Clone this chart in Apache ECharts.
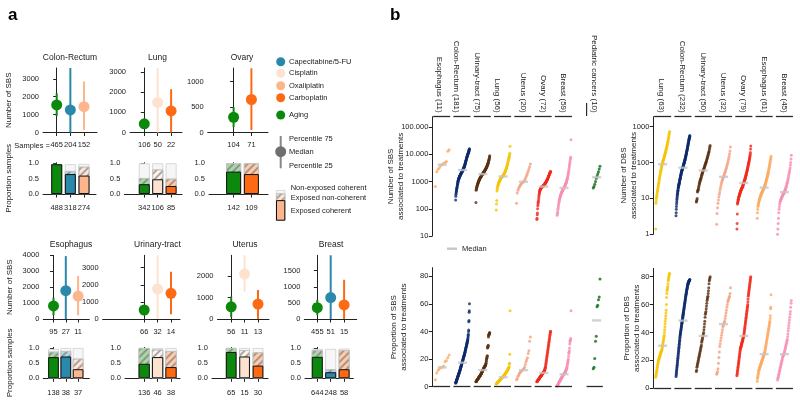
<!DOCTYPE html>
<html><head><meta charset="utf-8">
<script src="https://cdn.jsdelivr.net/npm/echarts@6/dist/echarts.min.js"></script>
<style>html,body{margin:0;padding:0;background:#fff}#c{width:800px;height:404px}</style>
</head><body><div id="c"></div>
<script>
// ---------------- Panel a data ----------------
const treatmentNames = ['Capecitabine/5-FU','Cisplatin','Oxaliplatin','Carboplatin','Aging'];
const treatmentColors = ['#2a88ab','#fde2cf','#fdb68c','#fd6a13','#0c890c'];
const aTissues = ['Colon-Rectum','Lung','Ovary','Esophagus','Urinary-tract','Uterus','Breast'];
const aTreatments = [
  ['Aging','Capecitabine/5-FU','Oxaliplatin'],
  ['Aging','Cisplatin','Carboplatin'],
  ['Aging','Carboplatin'],
  ['Aging','Capecitabine/5-FU','Oxaliplatin'],
  ['Aging','Cisplatin','Carboplatin'],
  ['Aging','Cisplatin','Carboplatin'],
  ['Aging','Capecitabine/5-FU','Carboplatin']
];
const sbsMedian = [[1540,1260,1440],[430,1490,1070],[300,650],[820,1780,1440],[526,1754,1500],[570,2100,700],[353,666,437]];
const sbsP25 = [[920,0,140],[330,0,0],[105,50],[230,0,230],[420,0,275],[80,1280,0],[125,0,0]];
const sbsP75 = [[2190,3600,2840],[540,3200,2150],[500,1265],[1340,3950,2700],[640,3725,2766],[1050,2977,1360],[594,1980,1220]];
const sbsSamples = [[465,204,152],[106,50,22],[104,71],[95,27,11],[66,32,14],[56,11,13],[455,51,15]];
const sbsAxisMax = [3600,3200,1270,4000,3725,2977,1980];
const sbsAxisTicks = [[0,1000,2000,3000],[0,1000,2000,3000],[0,500,1000],[0,1000,2000,3000,4000],[0,1000,2000,3000],[0,1000,2000],[0,500,1000,1500]];
const propExposedCoherent = [[0.97,0.65,0.6],[0.32,0.48,0.26],[0.73,0.65],[0.7,0.72,0.3],[0.48,0.7,0.37],[0.87,0.72,0.42],[0.71,0.2,0.3]];
const propExposedNonCoherent = [[0,0.1,0.29],[0.2,0.32,0.24],[0.27,0.35],[0.18,0.18,0.35],[0.52,0.25,0.53],[0.13,0.21,0.44],[0.22,0.1,0.63]];
const propNonExposedCoherent = [[0.01,0.22,0.09],[0.48,0.2,0.5],[0,0],[0.09,0.1,0.35],[0,0.05,0.1],[0,0.07,0.14],[0.04,0.67,0.05]];
const propSamples = [[488,318,274],[342,106,85],[142,109],[138,38,37],[136,46,38],[65,15,30],[644,248,58]];
const propTicks = [0,0.5,1];
const legendBarParts = [0.67,0.22,0.11];

// ---------------- Panel b data ----------------
const sbsGroups = ['Esophagus','Colon-Rectum','Urinary-tract','Lung','Uterus','Ovary','Breast','Pediatric cancers'];
const sbsGroupN = [11,181,75,56,20,72,59,10];
const sbsColors = ['#fdaa60','#0c2b6b','#5a3010','#f5c400','#f4a080','#f2281b','#f78db3','#0b6a14'];
const sbsCounts = [
  [650,2300,2800,3300,3900,4200,4600,5000,5400,13000,14500],
  [210,290,340,380,420,460,500,540,580,620,680,740,800,870,930,990,1050,1110,1160,1210,1260,1310,1360,1410,1460,1510,1560,1600,1640,1690,1730,1780,1830,1880,1930,1980,2030,2080,2130,2180,2230,2290,2350,2410,2470,2540,2610,2680,2750,2820,2900,3000,3100,3200,3320,3450,3580,3720,3870,4030,4200,4400,4650,4900,5150,5400,5700,6000,6300,6650,7000,7350,7700,8000,8300,8650,9000,9400,9800,10200,10600,11000,11400,11800,12400,13000,13700,14400,15200,16000],
  [170,480,520,560,600,640,680,720,760,800,840,880,920,960,1000,1040,1080,1120,1160,1200,1240,1280,1320,1360,1400,1440,1480,1520,1560,1600,1650,1700,1750,1800,1850,1870,1900,1950,2000,2050,2100,2150,2200,2260,2320,2380,2440,2500,2560,2620,2700,2780,2860,2950,3050,3150,3250,3350,3500,3650,3800,3950,4100,4300,4500,4700,5000,5300,5600,6000,6400,6900,7400,8100,8900],
  [90,150,200,450,520,600,660,720,780,840,900,950,1000,1050,1100,1150,1200,1250,1300,1340,1380,1420,1460,1500,1530,1560,1600,1650,1700,1760,1820,1900,1980,2060,2150,2250,2350,2500,2650,2800,3000,3200,3450,3700,4000,4400,4800,5300,5800,6400,7000,7700,8500,9500,11000,19600],
  [160,380,480,560,640,720,800,870,930,960,990,1100,1250,1450,1700,2000,2400,2900,3500,4400],
  [40,45,60,70,100,130,150,170,190,220,260,300,340,380,420,450,480,500,520,540,555,570,585,600,610,620,630,640,650,660,670,680,690,700,710,720,735,750,765,780,800,820,840,860,880,900,920,950,980,1010,1040,1080,1120,1160,1200,1240,1290,1340,1400,1460,1520,1590,1660,1740,1820,1900,1980,2060,2140,2220,2300,2350],
  [58,65,75,90,105,120,140,160,180,200,220,240,260,280,300,320,340,360,380,400,420,440,460,480,500,520,540,560,580,600,620,650,680,710,740,780,820,870,920,980,1050,1130,1220,1320,1450,1600,1800,2000,2300,2600,3000,3500,4000,4600,5300,6100,7000,7800,34000],
  [580,650,800,1000,1300,1550,1900,2300,2900,3650]
];
const sbsCountMedians = [4150,2630,1870,1530,970,650,580,1430];
const sbsProps = [
  [5,10,12,13,14,14,15,18,19,21,23],
  [2.5,3,3.3,3.6,4,4.3,4.6,5,5.3,5.6,6,6.3,6.6,7,7.3,7.6,8,8.3,8.6,9,9.3,9.6,10,10.3,10.6,11,11.3,11.6,12,12.4,12.8,13.2,13.6,14,14.4,14.8,15.2,15.6,16,16.4,16.8,17.2,17.6,18,18.4,18.8,19.2,19.6,20,20.4,20.8,21.2,21.6,22,22.4,22.8,23.2,23.6,24,24.5,25,25.5,26,26.5,27,27.5,28,28.5,29,29.5,30,30.5,31,31.5,32,32.5,33,33.5,34,35,36,37,38,40,41,47,48,54,55,60],
  [3.5,3.8,4,4.2,4.4,4.6,4.8,5,5.2,5.4,5.6,5.8,6,6.2,6.4,6.6,6.8,7,7.2,7.4,7.6,7.8,8,8.2,8.4,8.6,8.8,9,9.3,9.6,9.9,10.2,10.5,10.8,11.1,11.4,11.7,12,12.3,12.6,12.9,13.2,13.5,13.8,14,14.2,14.4,14.6,14.8,15,15.3,15.6,16,16.5,17,18,19,20,20.5,21,22,22.5,28,28.5,29,29.5,30,36,37,37.5,38,38,38.5,39,39],
  [2,2.2,2.4,2.6,2.8,3,3.2,3.4,3.6,3.8,4,4.2,4.4,4.6,4.8,5,5.2,5.4,5.6,5.8,6,6.2,6.4,6.6,6.8,7,7.2,7.4,7.6,7.8,8,8.2,8.4,8.6,8.8,9,9.3,9.6,9.9,10.2,10.5,10.8,11.1,11.4,11.7,12,12.4,12.8,13.2,13.6,14,14.5,16.5,17,23.5,55],
  [5,6,7.5,8.5,9.5,10.5,11,11.5,12,12.5,13,14,16,18,19.5,21,24,26,33,36],
  [3.5,3.8,4,4.2,4.4,4.6,4.8,5,5.2,5.4,5.6,5.8,6,6.2,6.4,6.6,6.8,7,7.2,7.4,7.6,7.8,8,8.2,8.4,8.6,8.8,9,9.2,9.4,9.6,9.8,10,10.2,10.4,10.6,10.8,11,11.3,11.6,12,12.5,13,13.5,14,15,16,17,18,19,20,21,22,23,24,25,26,27,28,29,30,31,32,33,34,35,36,37,38,39,40,40],
  [0.3,0.6,1,1.4,1.8,2.2,2.6,3,3.3,3.6,3.9,4.2,4.5,4.8,5.1,5.4,5.7,6,6.3,6.6,6.9,7.2,7.5,7.8,8.1,8.4,8.7,9,9.2,9.4,9.6,9.8,10,10.3,10.6,11,11.4,11.8,12.3,12.8,13.4,14,15,16,17,18,19,20,22,24,25,26,28,31,32.5,33.5,34,35,55],
  [13,14,20.5,33,36.5,58,59,63,65,78]
];
const sbsPropMedians = [14,17.4,12,6.8,12,10,9,48];

const dbsGroups = ['Lung','Colon-Rectum','Urinary-tract','Uterus','Ovary','Esophagus','Breast'];
const dbsGroupN = [63,232,50,32,79,61,45];
const dbsColors = ['#f5c400','#0c2b6b','#5a3010','#f4a080','#f2281b','#fdaa60','#f78db3'];
const dbsCounts = [
  [1.4,7.3,8.5,10,11,12,13.5,15,16.5,18,20,22,24,26,28,31,34,37,40,44,48,52,56,60,65,70,75,80,85,90,95,100,105,110,116,122,128,135,142,150,158,166,175,185,195,205,220,235,250,265,280,300,320,345,370,400,430,470,510,560,620,680,740],
  [3.3,4,5,6,7,8,9,10,11,12,13,14,15,16,17,18.5,20,21,22,23,24,25,26,27,28,29.5,31,32.5,34,35.5,37,38.5,40,42,44,46,48,50,52,54,56,58,60,62,64,66,68,70,72,74,76,78,80,83,86,89,92,95,98,101,104,108,112,116,120,125,130,135,140,146,152,158,165,172,180,188,196,205,215,225,235,246,258,270,285,300,315,330,345,360,380,400,420,440,460,480,500,520,545,570],
  [8,8.5,9,10,15,16,17,18,20,22,24,26,28,30,32,34,36,38,41,44,47,50,53,56,59,62,65,68,72,76,80,85,90,95,100,106,112,120,128,136,145,155,165,178,190,205,225,250,275,300],
  [1.9,3.8,5.5,7.3,9,11,13,15,18,21,24,27,30,33,36,39,42,46,50,55,60,66,72,80,90,100,115,130,150,175,210,270],
  [1.4,2,3.7,7,7.5,8,8.5,9,9.5,10,10.5,11,11.5,12,12.5,13,13.5,14,14.5,15,15.5,16,16.5,17,17.5,18,18.5,19,19.5,20,20.5,21,21.5,22,23,24,25,26,27,28,29,30,31,32,33,34,35.5,37,38.5,40,42,44,46,48,50,53,56,59,62,65,68,72,76,80,85,90,95,100,106,112,120,128,136,145,155,170,190,240,290],
  [2.8,4,5,6,6.5,7,7.5,8,8.5,9,9.5,10,10.5,11,11.5,12,12.5,13,13.5,14,14.5,15,15.5,16,16.5,17,17.5,18,18.5,19.5,20,21,22,23,24,25,26.5,28,29.5,31,33,35,37,39,41,44,47,50,54,58,63,68,74,80,87,95,103,112,123,135,150],
  [1,1.4,2,2.8,4,5,6,7,8,8.5,9,9.5,10,10.5,11,11.5,12,12.5,13,13.5,14,14.5,15,16,17,18,19,20.5,22,24,26,28,30,33,36,40,45,50,56,63,72,85,100,125,160]
];
const dbsCountMedians = [90,72,60,40,27,20,15];
const dbsProps = [
  [8,9,10,11,12,13,14,15,16,17,18,19,20,20.5,21,21.5,22,22.5,23,23.5,24,24.5,25,25.5,26,26.5,27,27.5,28,29,30,31,32,33,34,35,36,37,38,40,42,44,46,48,50,52,54,56,60,65,68,70,71,72,73,75,77,78,79,80,81,82,82.5],
  [8.5,9.5,10.5,11.5,12.5,13.5,14.5,15.5,16.5,17.5,18.5,19.5,20.5,21.5,22.5,23.5,24.5,25.5,26.5,27.5,28.5,29.5,30.5,31.5,32.5,33.5,34.5,35.5,36.5,37.5,38.3,39,39.7,40.4,41.1,41.8,42.5,43.2,43.9,44.6,45.3,46,46.7,47.4,48.1,48.8,49.5,50.2,50.9,51.6,52.3,53,53.7,54.4,55.1,55.8,56.5,57.2,57.9,58.6,59.3,60,60.7,61.4,62.1,62.8,63.5,64.2,64.9,65.6,66.2,66.8,67.4,68,68.6,69.2,69.8,70.4,71,71.6,72.1,72.6,73.1,73.6,74.1,74.5,74.9,75.3,75.6,75.9,76.2,76.4,76.6,76.8,77,77.2,77.4,77.6,77.8,78],
  [12,13,15,16,17,18,19,20,21,22,23,24,25,26,27,28,29,30,31,33,34,35,36,37,38,39,40,42,44,46,48,51,53,54,55,57,59,61,63,64,65,66,68,70,72,75,77,78,79,80],
  [10,11,12,14,18,22,26,30,32,34,36,38,40,42,44,45,46,47,48,50,52,54,56,58,60,62,63,64,65,66,68,72],
  [9,10,11,12,13,14,15,16,17,18,19,20,21,22,23,24,25,26,27,28,28.5,29,29.5,30,30.5,31,31.5,32,32.5,33,33.5,34,34.5,35,35.5,36,36.5,37,37.5,38,39,40,41,42,43,44,45,46,47,48,49,50,51,52,53,54,55,56,57,58,59,60,62,64,66,67,68,69,70,71,72,73,74,75,76,77,78,79,80],
  [5,7,8,9,10,11,12,13,13.5,14,14.5,15,15.5,16,16.5,17,17.5,18,18.5,19,19.5,20,20.5,21,21.5,22,22.5,23,23.5,24,24.5,25,25.5,26,27,28,29,30,31,32,33,34,35,36,37,38,39,40,41,42,43,44,45,46,47,48,50,52,57,58,67],
  [6,7,8,9,10,11,12,13,14,15,16,17,18,19,20,21,22,23,23.5,24,24.5,25,26,27,28,29,30,31,32,33,34,35,37,39,41,43,45,47,49,51,53,55,58,61,63]
];
const dbsPropMedians = [30.5,48.5,37.5,46,37.5,24.5,24.5];

const sbsCountTicks = [10,100,1000,10000,100000];
const sbsCountTickLabels = ['10','100','1000','10.000','100.000'];
const dbsCountTicks = [1,10,100,1000];
const dbsCountTickLabels = ['1','10','100','1000'];
const pctTicks = [0,20,40,60,80];

// ---------------- helpers & layout ----------------
const FONT = '"Liberation Sans", Arial, Helvetica, sans-serif';
const INK = '#222';
const FS = 7.5;
function tint(hex, f) {
  const n = parseInt(hex.slice(1), 16);
  const m = c => Math.round(c * f + 255 * (1 - f));
  return 'rgb(' + m(n >> 16) + ',' + m((n >> 8) & 255) + ',' + m(n & 255) + ')';
}
const colorOf = t => treatmentColors[treatmentNames.indexOf(t)];
const hatch = {symbol:'rect', symbolSize:1, color:'rgba(105,105,105,0.55)', dashArrayX:[1,0], dashArrayY:[1.3,3], rotation:-Math.PI/4};
const axisLine = {show:true, lineStyle:{color:INK, width:1}};
const tickOut = {show:true, length:3.5, inside:false, lineStyle:{color:INK, width:1}};
const noSplit = {show:false};
const nameStyle = {fontSize:8, lineHeight:10, color:INK, fontFamily:FONT};

const grids = [], xAxes = [], yAxes = [], series = [], graphics = [];
function addGrid(left, top, width, height) {
  grids.push({left, top, width, height, containLabel:false, outerBoundsMode:'none', show:false});
  return grids.length - 1;
}
// three overlapping bar series (total, coherent+non-coherent, coherent) drawn back to front
function segmentBars(xi, yi, barW, xs, coh, nonCoh, nonExp, cols) {
  const total = xs.map((_, j) => coh[j] + nonCoh[j] + nonExp[j]);
  const mid = xs.map((_, j) => coh[j] + nonCoh[j]);
  const common = {type:'bar', xAxisIndex:xi, yAxisIndex:yi, barWidth:barW, barGap:'-100%', silent:true};
  series.push(Object.assign({}, common, {data:xs.map((x, j) => ({value:[x, total[j]], itemStyle:{color:'#f6f6f6', borderColor:'#cfcfcf', borderWidth:0.8}}))}));
  series.push(Object.assign({}, common, {data:xs.map((x, j) => ({value:[x, mid[j]], itemStyle:{color:tint(cols[j], 0.35), borderColor:'#c4c4c4', borderWidth:0.8, decal:hatch}}))}));
  series.push(Object.assign({}, common, {data:xs.map((x, j) => ({value:[x, coh[j]], itemStyle:{color:cols[j], borderColor:'#111', borderWidth:1}}))}));
}

const aLayout = [
  {lolli:[43,97],      bars:[43,96],      cx0:56.7,  unit:13.65, barW:11,   row:0, title:[70,57.5]},
  {lolli:[130,182],    bars:[124.3,182],  cx0:144.3, unit:13.4,  barW:11,   row:0, title:[157.5,57.5]},
  {lolli:[207.7,268],  bars:[209,268],    cx0:233.6, unit:17.8,  barW:15,   row:0, title:[242,57.5]},
  {lolli:[43.3,89.3],  bars:[43.3,89.3],  cx0:53.5,  unit:12.3,  barW:10.7, row:1, title:[71,245]},
  {lolli:[102.7,180],  bars:[125,180],    cx0:144.2, unit:13.4,  barW:11.3, row:1, title:[157.5,245]},
  {lolli:[217.5,269],  bars:[212,268],    cx0:231.2, unit:13.4,  barW:10.7, row:1, title:[245,245]},
  {lolli:[304.3,356.7],bars:[305,353.3],  cx0:317.3, unit:13.4,  barW:11,   row:1, title:[331,245]}
];
const rowY = [
  {lolliTop:68, lolliBot:132.5, barTop:162.7, barBot:194, lm:8.5, bm:10},
  {lolliTop:255.3, lolliBot:319, barTop:347.4, barBot:378.3, lm:9, bm:10.5}
];

// ---------------- Panel a ----------------
aTissues.forEach((tissue, k) => {
  const L = aLayout[k], R = rowY[L.row];
  const idxs = aTreatments[k].map((_, j) => j);
  const cols = aTreatments[k].map(colorOf);
  // lollipop
  const gL = addGrid(L.lolli[0], R.lolliTop, L.lolli[1] - L.lolli[0], R.lolliBot - R.lolliTop);
  const xi = xAxes.length;
  xAxes.push({gridIndex:gL, type:'value', min:-(L.cx0 - L.lolli[0]) / L.unit, max:(L.lolli[1] - L.cx0) / L.unit,
    axisLine, axisTick:Object.assign({}, tickOut, {customValues:idxs}), splitLine:noSplit,
    axisLabel:{customValues:idxs, formatter:v => String(sbsSamples[k][Math.round(v)]), margin:R.lm, fontSize:FS, color:INK, fontFamily:FONT}});
  const yi = yAxes.length;
  yAxes.push({gridIndex:gL, type:'value', min:0, max:sbsAxisMax[k], axisLine, splitLine:noSplit,
    axisTick:Object.assign({}, tickOut, {customValues:sbsAxisTicks[k]}),
    axisLabel:{customValues:sbsAxisTicks[k], formatter:v => String(Math.round(v)), fontSize:FS, color:INK, margin:4, fontFamily:FONT},
    name:(k === 0 || k === 3) ? 'Number of SBS' : '', nameLocation:'middle', nameGap:29, nameMoveOverlap:false,
    nameTextStyle:nameStyle});
  series.push({type:'custom', xAxisIndex:xi, yAxisIndex:yi, silent:true, clip:false,
    data:idxs.map(j => [j, sbsP25[k][j], sbsMedian[k][j], sbsP75[k][j]]),
    renderItem:(params, api) => {
      const j = api.value(0), c = cols[j];
      const a = api.coord([j, api.value(1)]), m = api.coord([j, api.value(2)]), b = api.coord([j, api.value(3)]);
      return {type:'group', children:[
        {type:'line', shape:{x1:a[0], y1:a[1], x2:b[0], y2:b[1]}, style:{stroke:c, lineWidth:2}},
        {type:'circle', shape:{cx:m[0], cy:m[1], r:5.5}, style:{fill:c}}
      ]};
    }});
  // bars
  const gB = addGrid(L.bars[0], R.barTop, L.bars[1] - L.bars[0], R.barBot - R.barTop);
  const bxi = xAxes.length;
  xAxes.push({gridIndex:gB, type:'value', min:-(L.cx0 - L.bars[0]) / L.unit, max:(L.bars[1] - L.cx0) / L.unit,
    axisLine, axisTick:Object.assign({}, tickOut, {customValues:idxs}), splitLine:noSplit,
    axisLabel:{customValues:idxs, formatter:v => String(propSamples[k][Math.round(v)]), margin:R.bm, fontSize:FS, color:INK, fontFamily:FONT}});
  const byi = yAxes.length;
  yAxes.push({gridIndex:gB, type:'value', min:0, max:1.02, axisLine, splitLine:noSplit,
    axisTick:Object.assign({}, tickOut, {customValues:propTicks}),
    axisLabel:{customValues:propTicks, formatter:v => v.toFixed(1), fontSize:FS, color:INK, margin:4, fontFamily:FONT},
    name:(k === 0 || k === 3) ? 'Proportion samples' : '', nameLocation:'middle', nameGap:29, nameMoveOverlap:false,
    nameTextStyle:nameStyle});
  segmentBars(bxi, byi, L.barW, idxs, propExposedCoherent[k], propExposedNonCoherent[k], propNonExposedCoherent[k], cols);
  graphics.push({type:'text', x:L.title[0], y:L.title[1], style:{text:tissue, fontSize:8.5, fontFamily:FONT, fill:INK, align:'center', verticalAlign:'middle'}});
});

// legend bar (panel a)
{
  const g = addGrid(276, 190, 9.3, 30.7);
  const xi = xAxes.length; xAxes.push({gridIndex:g, type:'value', min:-0.5, max:0.5, show:false});
  const yi = yAxes.length; yAxes.push({gridIndex:g, type:'value', min:0, max:1, show:false});
  segmentBars(xi, yi, 9.3, [0], [legendBarParts[0]], [legendBarParts[1]], [legendBarParts[2]], [colorOf('Oxaliplatin')]);
}

// legend entries panel a
const legendY = [61.7, 73.3, 85.7, 97.7, 115];
['Capecitabine/5-FU','Cisplatin','Oxaliplatin','Carboplatin','Aging'].forEach((t, i) => {
  graphics.push({type:'circle', shape:{cx:280.7, cy:legendY[i], r:4.5}, style:{fill:colorOf(t)}});
  graphics.push({type:'text', x:289, y:legendY[i], style:{text:t, fontSize:FS, fontFamily:FONT, fill:INK, align:'left', verticalAlign:'middle'}});
});
graphics.push({type:'line', shape:{x1:280.7, y1:136, x2:280.7, y2:168.3}, style:{stroke:'#888', lineWidth:2}});
graphics.push({type:'circle', shape:{cx:280.7, cy:151.7, r:5.5}, style:{fill:'#6f6f6f'}});
[['Percentile 75', 139], ['Median', 152], ['Percentile 25', 166]].forEach(([t, y]) =>
  graphics.push({type:'text', x:289, y, style:{text:t, fontSize:FS, fontFamily:FONT, fill:INK, align:'left', verticalAlign:'middle'}}));
[['Non-exposed coherent', 188.3], ['Exposed non-coherent', 197.7], ['Exposed coherent', 211.3]].forEach(([t, y]) =>
  graphics.push({type:'text', x:290.7, y, style:{text:t, fontSize:FS, fontFamily:FONT, fill:INK, align:'left', verticalAlign:'middle'}}));
graphics.push({type:'text', x:50, y:145.5, style:{text:'Samples =', fontSize:FS, fontFamily:FONT, fill:INK, align:'right', verticalAlign:'middle'}});
graphics.push({type:'text', x:8, y:24, style:{text:'a', fontSize:17, fontWeight:'bold', fontFamily:FONT, fill:'#000', align:'left', verticalAlign:'bottom'}});
graphics.push({type:'text', x:390, y:24, style:{text:'b', fontSize:17, fontWeight:'bold', fontFamily:FONT, fill:'#000', align:'left', verticalAlign:'bottom'}});

// ---------------- Panel b ----------------
const UNIT = 20.3;
function stripPlot(opt) {
  const g = addGrid(opt.left, opt.top, opt.xmax * UNIT, opt.height);
  const xi = xAxes.length;
  xAxes.push({gridIndex:g, type:'value', min:0, max:opt.xmax, show:false});
  if (opt.labels) {
    const pos = opt.labelPos;
    xAxes.push({gridIndex:g, type:'value', position:'top', min:0, max:opt.xmax,
      axisLine:{show:false}, axisTick:{show:false}, splitLine:noSplit,
      axisLabel:{customValues:pos, rotate:90, margin:4, fontSize:8, color:INK, fontFamily:FONT,
        formatter:v => { const i = pos.findIndex(p => Math.abs(p - v) < 1e-6); return i >= 0 ? opt.labels[i] + ' (' + opt.ns[i] + ')' : ''; }}});
  }
  const yi = yAxes.length;
  const y = {gridIndex:g, type:opt.log ? 'log' : 'value', min:opt.ymin, max:opt.ymax, axisLine, splitLine:noSplit,
    axisTick:Object.assign({}, tickOut, {customValues:opt.ticks}),
    axisLabel:{customValues:opt.ticks, fontSize:FS, color:INK, margin:4, fontFamily:FONT,
      formatter:v => { const i = opt.ticks.findIndex(t => Math.abs(t - v) < 1e-6 * Math.max(1, t)); return i >= 0 ? opt.tickLabels[i] : ''; }},
    name:opt.name, nameLocation:'middle', nameGap:opt.nameGap, nameMoveOverlap:false, nameTextStyle:nameStyle};
  if (opt.log) y.logBase = 10;
  yAxes.push(y);
  opt.values.forEach((arr, gi) => {
    const n = arr.length;
    series.push({type:'scatter', xAxisIndex:xi, yAxisIndex:yi, symbolSize:3, silent:true, z:2,
      itemStyle:{color:opt.colors[gi]},
      data:arr.map((v, r) => [opt.offs[gi] + opt.spans[gi] * (n > 1 ? r / (n - 1) : 0.5), v])});
  });
  series.push({type:'scatter', xAxisIndex:xi, yAxisIndex:yi, symbol:'rect', symbolSize:[9, 2.4], silent:true, z:4,
    itemStyle:{color:'#c6c6c6'},
    data:opt.medians.map((m, gi) => [opt.offs[gi] + opt.spans[gi] / 2, m])});
  series.push({type:'lines', coordinateSystem:'cartesian2d', xAxisIndex:xi, yAxisIndex:yi, silent:true, clip:false, z:3,
    lineStyle:{color:'#2a2a2a', width:1.3, opacity:1},
    data:opt.brackets.map(b => ({coords:[[b[0], opt.bracketY], [b[1], opt.bracketY]]}))});
  return g;
}
const sbsOffs = [0.15,1.15,2.15,3.15,4.15,5.15,6.15,7.93];
const sbsSpans = [0.68,0.68,0.68,0.68,0.68,0.68,0.68,0.33];
const sbsBr = [[0.04,0.88],[1.04,1.88],[2.04,2.88],[3.04,3.88],[4.04,4.88],[5.04,5.88],[6.04,6.88],[7.6,8.4]];
const dbsOffs = [0.12,1.12,2.12,3.12,4.12,5.12,6.12];
const dbsSpans = [0.68,0.68,0.68,0.68,0.68,0.68,0.68];
const dbsBr = [[0.04,0.88],[1.04,1.88],[2.04,2.88],[3.04,3.88],[4.04,4.88],[5.04,5.88],[6.04,6.88]];

stripPlot({left:432.3, top:116.7, height:119.3, xmax:8.45, log:true, ymin:10, ymax:239000,
  ticks:sbsCountTicks, tickLabels:sbsCountTickLabels, values:sbsCounts, medians:sbsCountMedians, colors:sbsColors,
  offs:sbsOffs, spans:sbsSpans, brackets:sbsBr.slice(0, 7), bracketY:239000,
  labels:sbsGroups, ns:sbsGroupN, labelPos:[0.36,1.19,2.2,3.2,4.47,5.47,6.46,7.97],
  name:'Number of SBS\nassociated to treatments', nameGap:27});
stripPlot({left:432.3, top:267.7, height:119, xmax:8.45, log:false, ymin:0, ymax:86.2,
  ticks:pctTicks, tickLabels:pctTicks.map(String), values:sbsProps, medians:sbsPropMedians, colors:sbsColors,
  offs:sbsOffs, spans:sbsSpans, brackets:sbsBr, bracketY:0,
  name:'Proportion of SBS\nassociated to treatments', nameGap:24});
stripPlot({left:653.3, top:116.7, height:117.6, xmax:7.0, log:true, ymin:1, ymax:1900,
  ticks:dbsCountTicks, tickLabels:dbsCountTickLabels, values:dbsCounts, medians:dbsCountMedians, colors:dbsColors,
  offs:dbsOffs, spans:dbsSpans, brackets:dbsBr, bracketY:1900,
  labels:dbsGroups, ns:dbsGroupN, labelPos:[0.39,1.42,2.44,3.43,4.42,5.46,6.44],
  name:'Number of DBS\nassociated to treatments', nameGap:15});
stripPlot({left:653.3, top:268.3, height:120, xmax:7.0, log:false, ymin:0, ymax:86,
  ticks:pctTicks, tickLabels:pctTicks.map(String), values:dbsProps, medians:dbsPropMedians, colors:dbsColors,
  offs:dbsOffs, spans:dbsSpans, brackets:dbsBr, bracketY:0,
  name:'Proportion of DBS\nassociated to treatments', nameGap:12});

// pediatric bracket mark and median legend
graphics.push({type:'line', shape:{x1:432.3 + 7.6 * UNIT, y1:103, x2:432.3 + 7.6 * UNIT, y2:116}, style:{stroke:'#2a2a2a', lineWidth:1.2}});
graphics.push({type:'rect', shape:{x:447, y:247.5, width:10, height:2.4}, style:{fill:'#c6c6c6'}});
graphics.push({type:'text', x:462, y:248.7, style:{text:'Median', fontSize:FS, fontFamily:FONT, fill:INK, align:'left', verticalAlign:'middle'}});

const chart = echarts.init(document.getElementById('c'), null, {renderer:'canvas', width:800, height:404});
chart.setOption({
  animation:false,
  backgroundColor:'#fff',
  textStyle:{fontFamily:FONT},
  grid:grids, xAxis:xAxes, yAxis:yAxes, series,
  graphic:{elements:graphics}
});
</script></body></html>
